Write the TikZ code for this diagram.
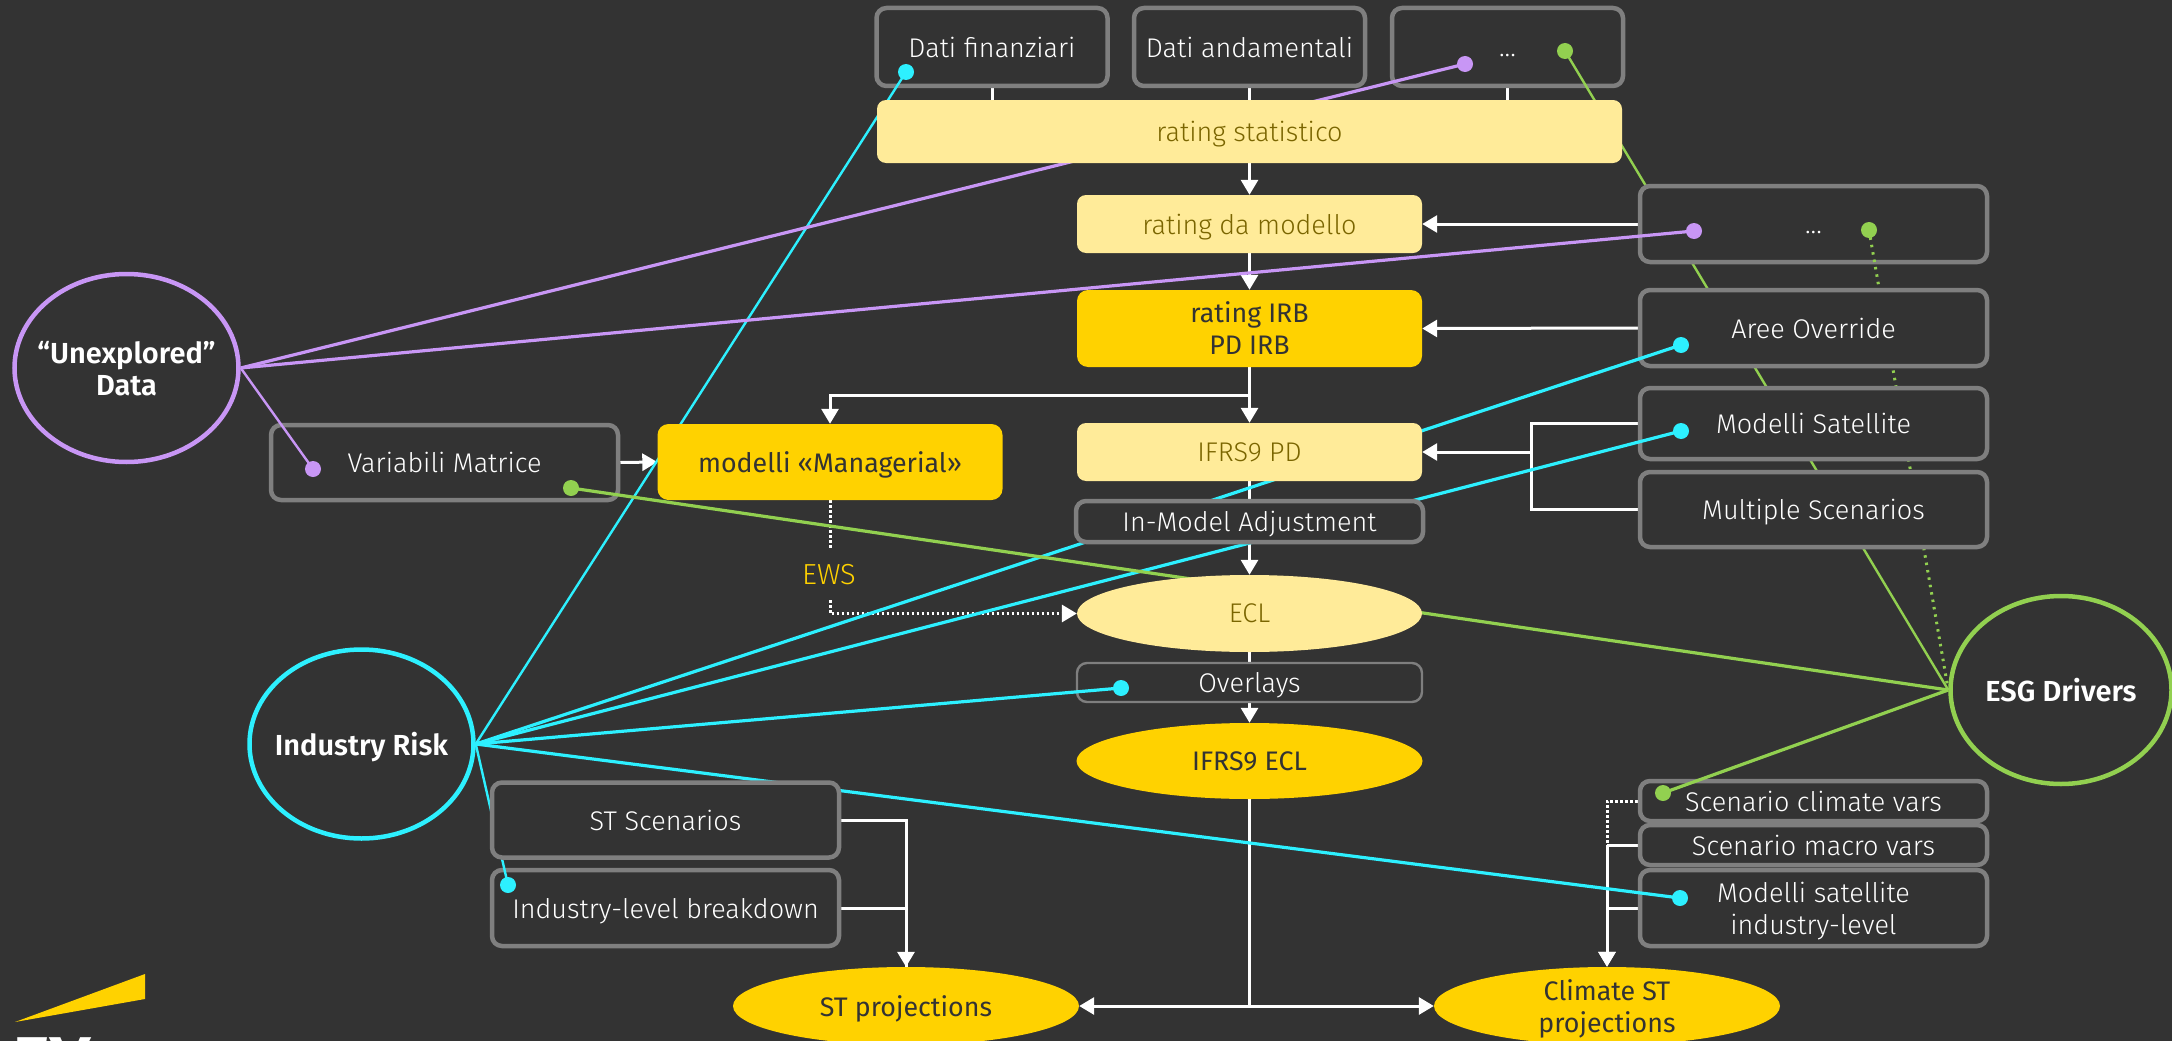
\documentclass[tikz,border=0pt]{standalone}
\usepackage{fontspec}
\setmainfont{Fira Sans}[UprightFont=* Light, BoldFont=* SemiBold]
\newfontfamily\midfont{Fira Sans}
\usetikzlibrary{backgrounds, shapes.geometric, arrows.meta, calc}
\definecolor{slatebg}{HTML}{333333}
\definecolor{goldfill}{HTML}{FFD200}
\definecolor{palefill}{HTML}{FFEB99}
\definecolor{olivetext}{HTML}{7A6500}
\definecolor{boxgrey}{HTML}{7F7F7F}
\definecolor{lilacline}{HTML}{C896F5}
\definecolor{cyanline}{HTML}{2DF0FF}
\definecolor{greenline}{HTML}{92D050}
\tikzset{
  every node/.style={font=\fontsize{27}{32}\selectfont, align=center, inner sep=0pt, text depth=0pt},
  greybox/.style={
    rectangle, rounded corners=10pt, draw=boxgrey, line width=4.5pt, fill=slatebg,
    text=white, minimum width=347pt
  },
  palebox/.style={
    rectangle, rounded corners=9pt, fill=palefill, text=olivetext, minimum width=345pt
  },
  goldbox/.style={
    rectangle, rounded corners=11pt, fill=goldfill, text=slatebg, minimum width=345pt,
    font=\fontsize{26.8}{32}\midfont
  },
  paleoval/.style={ellipse, fill=palefill, text=olivetext, minimum width=345pt},
  goldoval/.style={ellipse, fill=goldfill, text=slatebg, minimum width=346pt,
    font=\fontsize{26.8}{32}\midfont},
  hubnode/.style={
    ellipse, line width=4.5pt, fill=slatebg, text=white, inner xsep=-25pt,
    font=\fontsize{29}{32}\selectfont\bfseries
  },
  dotnode/.style={circle, minimum size=16pt},
  wire/.style={white, line width=3pt},
  arrow/.style={wire, -{Triangle[length=15pt,width=17pt]}},
  dotwire/.style={white, line width=3pt, dash pattern=on 2.5pt off 2.5pt},
  lilac/.style={lilacline, line width=3.2pt},
  cyanw/.style={cyanline, line width=3.2pt},
  greenw/.style={greenline, line width=3.2pt}
}
\begin{document}
\begin{tikzpicture}[x=1pt, y=-1pt]
    \useasboundingbox (0,0) rectangle (2172,1041);

    % Hubs
    \node[hubnode, draw=lilacline, minimum width=224pt, minimum height=188pt] (unexplored) at (126.5,368) {``Unexplored''\\Data};
    \node[hubnode, draw=cyanline, minimum width=224pt, minimum height=189pt] (industry) at (361.5,744) {Industry Risk};
    \node[hubnode, draw=greenline, minimum width=221pt, minimum height=188pt] (esg) at (2061,690) {ESG Drivers};

    % Input boxes on top
    \node[greybox, minimum width=231pt, minimum height=78pt] (datifin) at (992,47) {Dati finanziari};
    \node[greybox, minimum width=231pt, minimum height=78pt] (datiand) at (1249.5,47) {Dati andamentali};
    \node[greybox, minimum width=231pt, minimum height=78pt] (datialtri) at (1507.5,47) {\vphantom{D}...};

    \node[dotnode, fill=cyanline] (dotfin) at (906,72) {};
    \draw[cyanw, line width=2.4pt] (dotfin.center) -- (industry.east);
    \node[dotnode, fill=lilacline] (dotaltri) at (1465,64) {};
    \draw[lilac] (dotaltri.center) -- (unexplored.east);
    \node[dotnode, fill=greenline] (dotgreen) at (1565,51) {};
    \draw[greenw, line width=2.4pt] (dotgreen.center) -- (esg.west);

    % Boxes on the right
    \node[greybox, minimum height=76pt] (altridx) at (1813.5,224) {\vphantom{D}...};
    \node[dotnode, fill=lilacline] (dotdxl) at (1694,231) {};
    \draw[lilac] (dotdxl.center) -- (unexplored.east);
    \node[dotnode, fill=greenline] (dotdxg) at (1869,230) {};
    \draw[greenline, line width=3pt, dash pattern=on 2.5pt off 5pt] (dotdxg.center) -- (esg.west);

    \node[greybox, minimum height=76pt] (aree) at (1813.5,328) {Aree Override};
    \node[dotnode, fill=cyanline] (dotaree) at (1681,345) {};
    \draw[cyanw] (dotaree.center) -- (industry.east);

    \node[greybox, minimum height=71pt] (modsat) at (1813.5,423.5) {Modelli Satellite};
    \node[dotnode, fill=cyanline] (dotsat) at (1681,431) {};
    \draw[cyanw] (dotsat.center) -- (industry.east);

    \node[greybox, minimum height=75pt] (multi) at (1813.5,509.5) {Multiple Scenarios};

    % Boxes on the left
    \node[greybox, minimum height=75pt] (variabili) at (444.5,462.5) {Variabili Matrice};
    \node[dotnode, fill=lilacline] (dotvarl) at (313,469) {};
    \draw[lilac, line width=2.4pt] (dotvarl.center) -- (unexplored.east);
    \node[dotnode, fill=greenline] (dotvarg) at (571,488) {};
    \draw[greenw] (dotvarg.center) -- (esg.west);

    % Stress test inputs
    \node[greybox, minimum height=76pt] (modind) at (1813.5,908) {Modelli satellite\\industry-level};
    \node[dotnode, fill=cyanline] (dotmodind) at (1680,898) {};
    \draw[cyanw] (dotmodind.center) -- (industry.east);
    \node[greybox, minimum height=40pt] (climatevars) at (1813.5,801) {Scenario climate vars};
    \node[dotnode, fill=greenline] (dotclimate) at (1663,793) {};
    \draw[greenw] (dotclimate.center) -- (esg.west);
    \node[greybox, minimum height=40pt] (macrovars) at (1813.5,845) {Scenario macro vars};

    \node[greybox, minimum height=76pt] (indbreak) at (665.5,908) {Industry-level breakdown};
    \node[dotnode, fill=cyanline] (dotbreak) at (508,885) {};
    \draw[cyanw, line width=2.4pt] (dotbreak.center) -- (industry.east);
    \node[greybox, minimum height=75pt] (stscen) at (665.5,820) {ST Scenarios};

    \node[greybox, line width=2.4pt, minimum width=345pt, minimum height=39pt] (overlays) at (1249.5,682.5) {Overlays};
    \node[dotnode, fill=cyanline] (dotover) at (1121,688) {};
    \draw[cyanw] (dotover.center) -- (industry.east);

    % Central chain
    \node[palebox, minimum width=745pt, minimum height=63pt] (stat) at (1249.5,131.5) {rating statistico};
    \node[palebox, minimum height=58pt] (damodello) at (1249.5,224) {rating da modello};
    \node[goldbox, minimum height=77pt] (irb) at (1249.5,328.5) {rating IRB\\PD IRB};
    \node[palebox, minimum height=58pt] (ifrspd) at (1249.5,452) {IFRS9 PD};
    \node[greybox, minimum width=347pt, minimum height=41pt] (adj) at (1249.5,521.5) {In-Model Adjustment};
    \node[paleoval, minimum height=77pt] (ecl) at (1249.5,613.5) {ECL};
    \node[goldoval, minimum height=76pt] (ifrsecl) at (1249.5,761) {IFRS9 ECL};
    \node[goldbox, minimum height=76pt] (modelli) at (830,462) {modelli «Managerial»};
    \node[goldoval, minimum height=78pt] (stproj) at (906,1006) {ST projections};
    \node[goldoval, minimum height=78pt] (climproj) at (1607,1006) {Climate ST\\projections};
    \node[text=goldfill, font=\fontsize{29}{32}\selectfont, minimum width=60pt, minimum height=52pt] (ews) at (829,574) {EWS};

    % Logo
    \fill[goldfill] (145,974) -- (145,999) -- (15,1022) -- cycle;
    \node[text=white, font=\fontsize{72}{72}\selectfont\bfseries, anchor=north west] (eylogo) at (12,1037) {EY};

    % White connectors
    \coordinate (irbsplit) at (1249.5,395);
    \coordinate (satjoin) at (1531,452);
    \coordinate (macrojoin) at (1607,845);
    \coordinate (eclsplit) at (1249.5,1006);
    \begin{scope}[on background layer]
    \fill[slatebg] (0,0) rectangle (2172,1041);
    \draw[wire] (datifin.south) -- (datifin.south |- stat.north);
    \draw[wire] (datiand.south) -- (stat.north);
    \draw[wire] (datialtri.south) -- (datialtri.south |- stat.north);
    \draw[arrow] (stat.south) -- (damodello.north);
    \draw[arrow] (damodello.south) -- (irb.north);
    \draw[arrow] (irb.south) -- (ifrspd.north);
    \draw[arrow] (irbsplit) -| (modelli.north);
    \draw[wire] (ifrspd.south) -- (adj.north);
    \draw[arrow] (adj.south) -- (ecl.north);
    \draw[wire] (ecl.south) -- (overlays.north);
    \draw[arrow] (overlays.south) -- (ifrsecl.north);
    \draw[wire] (ifrsecl.south) -- (eclsplit);
    \draw[arrow] (eclsplit) -- (stproj.east);
    \draw[arrow] (eclsplit) -- (climproj.west);
    \draw[arrow] (altridx.west) -- (damodello.east);
    \draw[arrow] (aree.west) -- (irb.east);
    \draw[wire] (modsat.west) -| (satjoin);
    \draw[wire] (multi.west) -| (satjoin);
    \draw[arrow] (satjoin) -- (ifrspd.east);
    \draw[arrow] (variabili.east) -- (modelli.west);
    \draw[dotwire] (modelli.south) -- (modelli.south |- ews.north);
    \draw[dotwire, -{Triangle[length=15pt,width=17pt]}] (modelli.south |- ews.south) |- (ecl.west);
    \draw[wire] (stscen.east) -| (stproj.north);
    \draw[arrow] (indbreak.east) -| (stproj.north);
    \draw[dotwire] (climatevars.west) -| (macrojoin);
    \draw[wire] (macrovars.west) -- (macrojoin);
    \draw[arrow] (modind.west) -| (climproj.north);
    \draw[arrow] (macrojoin) -- (climproj.north);
    \end{scope}
\end{tikzpicture}
\end{document}
